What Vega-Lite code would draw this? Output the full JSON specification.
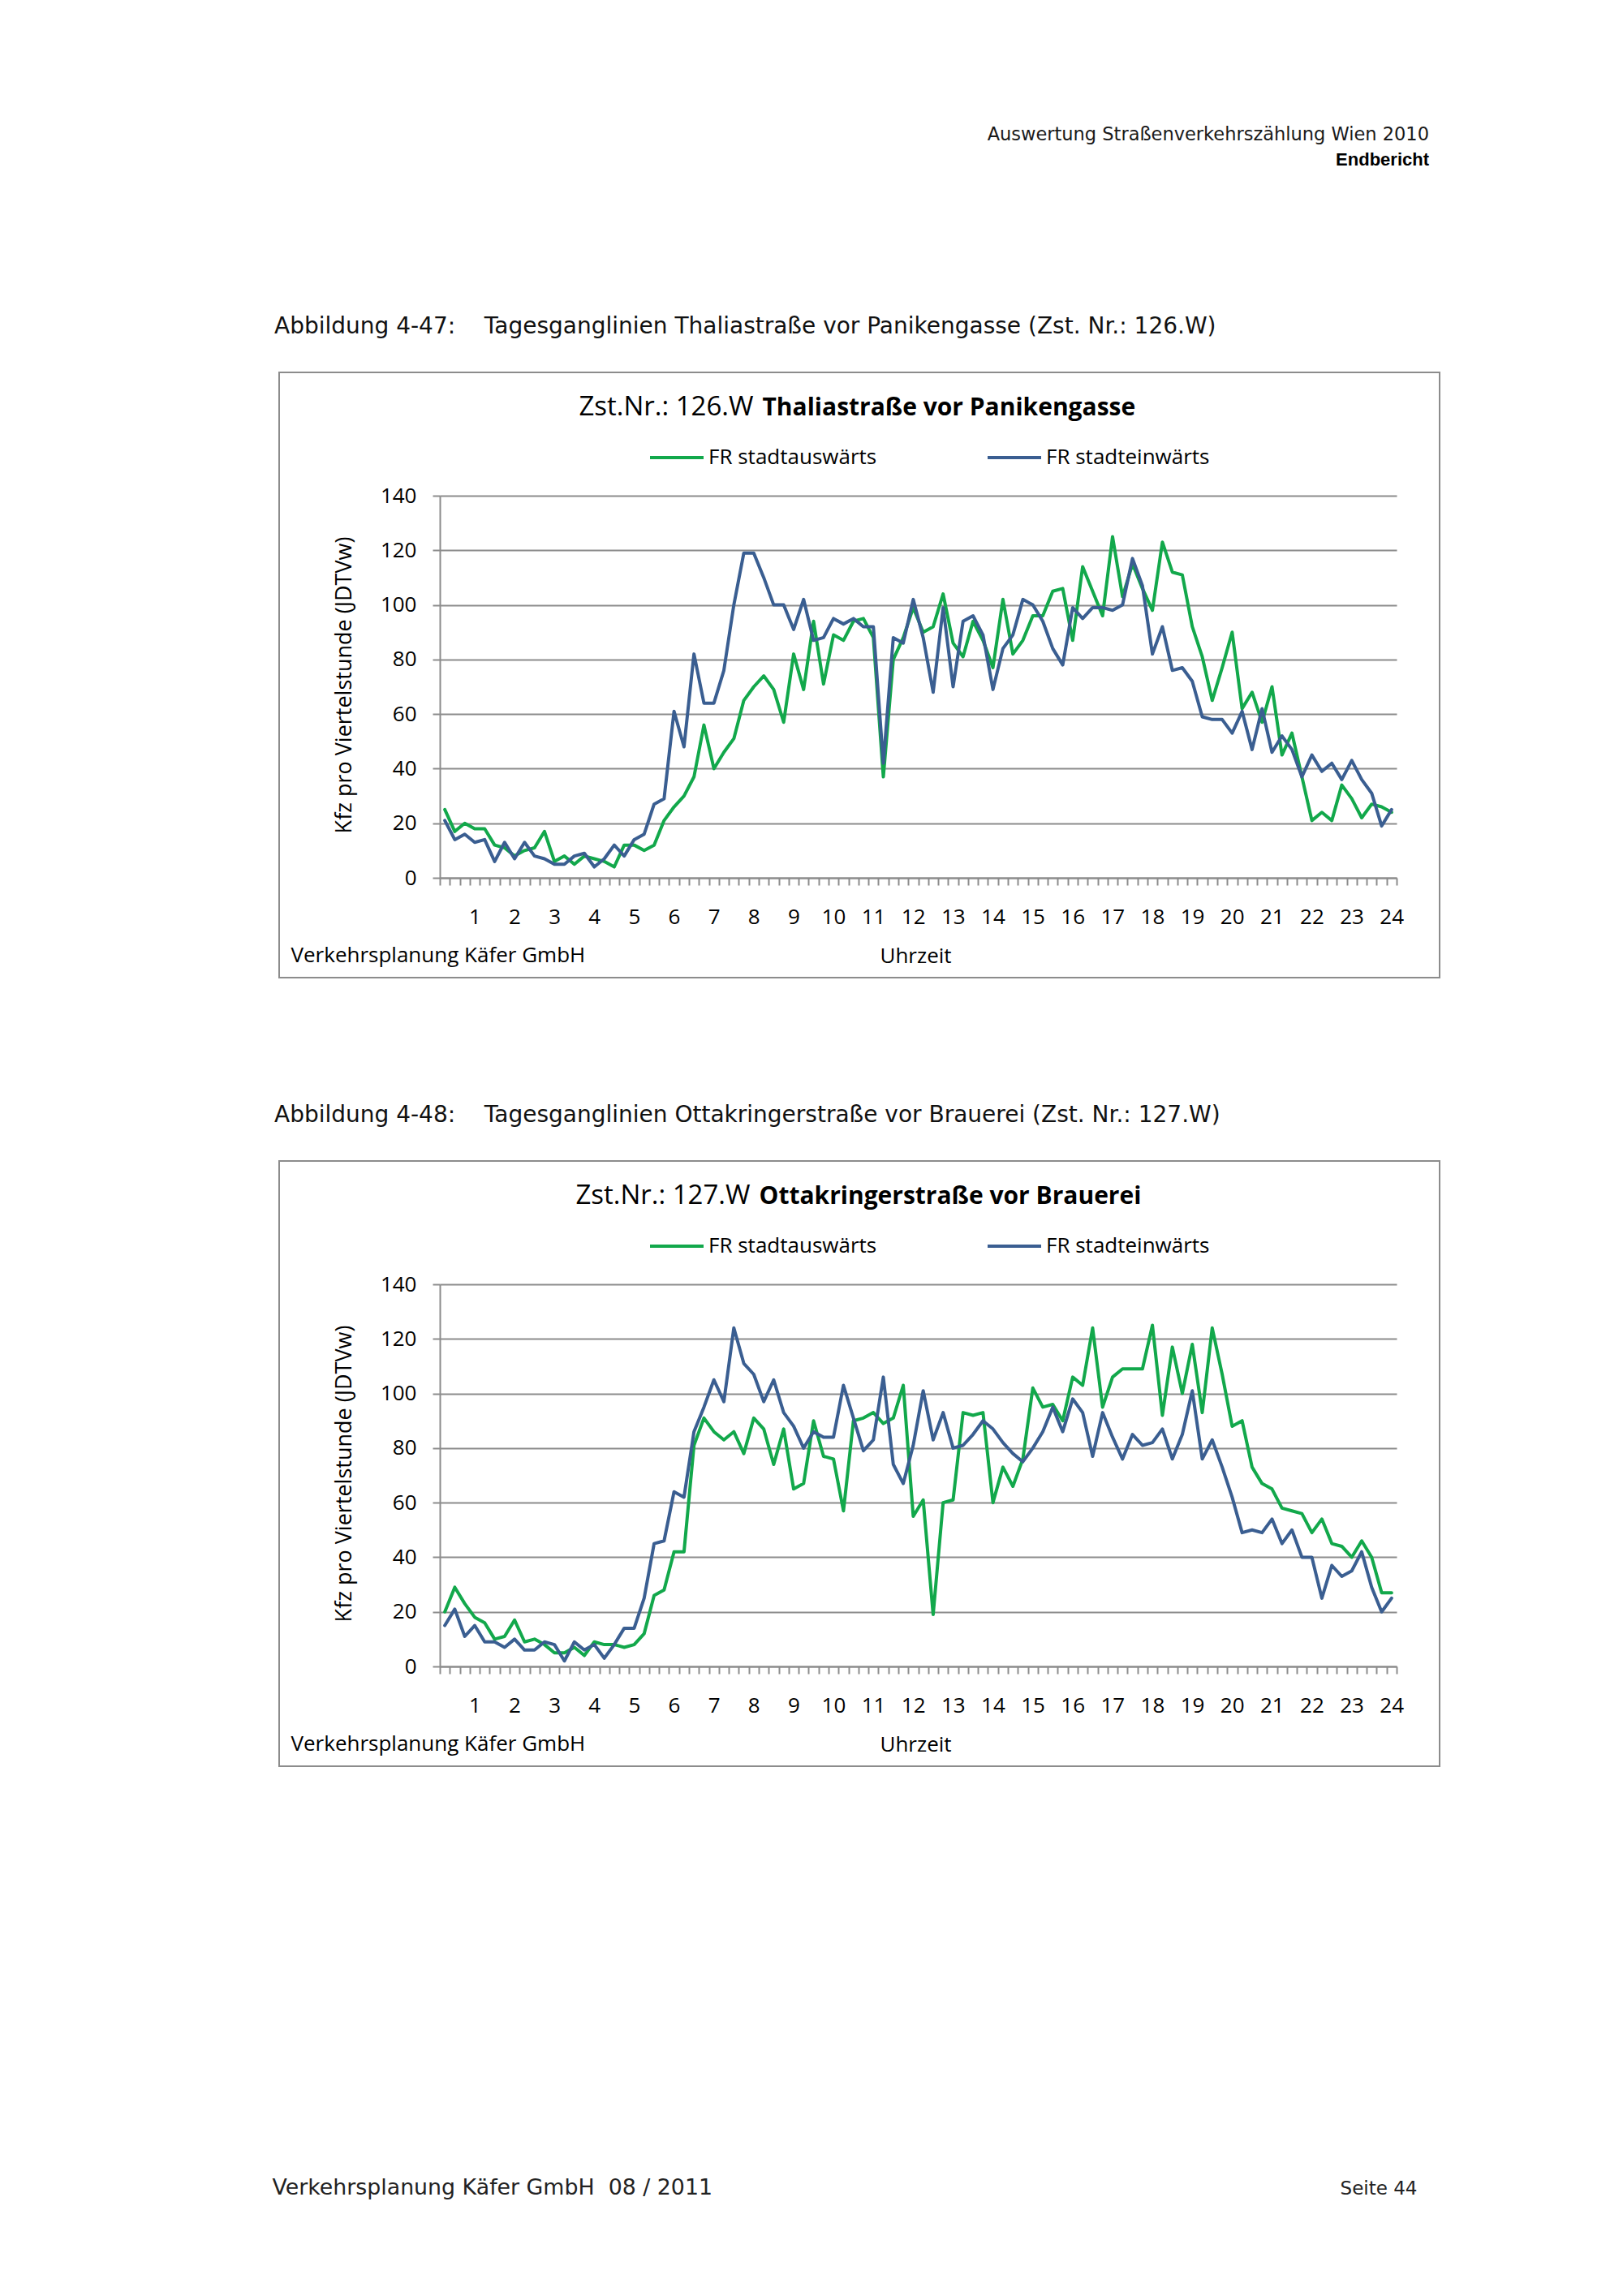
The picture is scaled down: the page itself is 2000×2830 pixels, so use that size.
{
"$schema": "https://vega.github.io/schema/vega-lite/v6.json",
"background": "white",
"padding": {"left": 334, "top": 155, "right": 0, "bottom": 10},
"bounds": "flush",
"spacing": 226,
"title": {"text": "Auswertung Straßenverkehrszählung Wien 2010", "subtitle": "Endbericht", "anchor": "end", "frame": "bounds", "font": "DejaVu Sans", "fontSize": 22.5, "fontWeight": "normal", "color": "#1a1a1a", "subtitleFont": "Liberation Sans", "subtitleFontSize": 22, "subtitleFontWeight": "bold", "subtitleColor": "#000", "subtitlePadding": 9, "baseline": "top", "offset": 180.5, "dx": -14},
"datasets": {
"c1": [
{"q":1,"Richtung":"FR stadtauswärts","Kfz":25},{"q":2,"Richtung":"FR stadtauswärts","Kfz":17},{"q":3,"Richtung":"FR stadtauswärts","Kfz":20},{"q":4,"Richtung":"FR stadtauswärts","Kfz":18},{"q":5,"Richtung":"FR stadtauswärts","Kfz":18},{"q":6,"Richtung":"FR stadtauswärts","Kfz":12},{"q":7,"Richtung":"FR stadtauswärts","Kfz":11},{"q":8,"Richtung":"FR stadtauswärts","Kfz":8},{"q":9,"Richtung":"FR stadtauswärts","Kfz":10},{"q":10,"Richtung":"FR stadtauswärts","Kfz":11},
{"q":11,"Richtung":"FR stadtauswärts","Kfz":17},{"q":12,"Richtung":"FR stadtauswärts","Kfz":6},{"q":13,"Richtung":"FR stadtauswärts","Kfz":8},{"q":14,"Richtung":"FR stadtauswärts","Kfz":5},{"q":15,"Richtung":"FR stadtauswärts","Kfz":8},{"q":16,"Richtung":"FR stadtauswärts","Kfz":7},{"q":17,"Richtung":"FR stadtauswärts","Kfz":6},{"q":18,"Richtung":"FR stadtauswärts","Kfz":4},{"q":19,"Richtung":"FR stadtauswärts","Kfz":12},{"q":20,"Richtung":"FR stadtauswärts","Kfz":12},
{"q":21,"Richtung":"FR stadtauswärts","Kfz":10},{"q":22,"Richtung":"FR stadtauswärts","Kfz":12},{"q":23,"Richtung":"FR stadtauswärts","Kfz":21},{"q":24,"Richtung":"FR stadtauswärts","Kfz":26},{"q":25,"Richtung":"FR stadtauswärts","Kfz":30},{"q":26,"Richtung":"FR stadtauswärts","Kfz":37},{"q":27,"Richtung":"FR stadtauswärts","Kfz":56},{"q":28,"Richtung":"FR stadtauswärts","Kfz":40},{"q":29,"Richtung":"FR stadtauswärts","Kfz":46},{"q":30,"Richtung":"FR stadtauswärts","Kfz":51},
{"q":31,"Richtung":"FR stadtauswärts","Kfz":65},{"q":32,"Richtung":"FR stadtauswärts","Kfz":70},{"q":33,"Richtung":"FR stadtauswärts","Kfz":74},{"q":34,"Richtung":"FR stadtauswärts","Kfz":69},{"q":35,"Richtung":"FR stadtauswärts","Kfz":57},{"q":36,"Richtung":"FR stadtauswärts","Kfz":82},{"q":37,"Richtung":"FR stadtauswärts","Kfz":69},{"q":38,"Richtung":"FR stadtauswärts","Kfz":94},{"q":39,"Richtung":"FR stadtauswärts","Kfz":71},{"q":40,"Richtung":"FR stadtauswärts","Kfz":89},
{"q":41,"Richtung":"FR stadtauswärts","Kfz":87},{"q":42,"Richtung":"FR stadtauswärts","Kfz":94},{"q":43,"Richtung":"FR stadtauswärts","Kfz":95},{"q":44,"Richtung":"FR stadtauswärts","Kfz":88},{"q":45,"Richtung":"FR stadtauswärts","Kfz":37},{"q":46,"Richtung":"FR stadtauswärts","Kfz":80},{"q":47,"Richtung":"FR stadtauswärts","Kfz":88},{"q":48,"Richtung":"FR stadtauswärts","Kfz":99},{"q":49,"Richtung":"FR stadtauswärts","Kfz":90},{"q":50,"Richtung":"FR stadtauswärts","Kfz":92},
{"q":51,"Richtung":"FR stadtauswärts","Kfz":104},{"q":52,"Richtung":"FR stadtauswärts","Kfz":86},{"q":53,"Richtung":"FR stadtauswärts","Kfz":81},{"q":54,"Richtung":"FR stadtauswärts","Kfz":94},{"q":55,"Richtung":"FR stadtauswärts","Kfz":87},{"q":56,"Richtung":"FR stadtauswärts","Kfz":77},{"q":57,"Richtung":"FR stadtauswärts","Kfz":102},{"q":58,"Richtung":"FR stadtauswärts","Kfz":82},{"q":59,"Richtung":"FR stadtauswärts","Kfz":87},{"q":60,"Richtung":"FR stadtauswärts","Kfz":96},
{"q":61,"Richtung":"FR stadtauswärts","Kfz":96},{"q":62,"Richtung":"FR stadtauswärts","Kfz":105},{"q":63,"Richtung":"FR stadtauswärts","Kfz":106},{"q":64,"Richtung":"FR stadtauswärts","Kfz":87},{"q":65,"Richtung":"FR stadtauswärts","Kfz":114},{"q":66,"Richtung":"FR stadtauswärts","Kfz":105},{"q":67,"Richtung":"FR stadtauswärts","Kfz":96},{"q":68,"Richtung":"FR stadtauswärts","Kfz":125},{"q":69,"Richtung":"FR stadtauswärts","Kfz":103},{"q":70,"Richtung":"FR stadtauswärts","Kfz":115},
{"q":71,"Richtung":"FR stadtauswärts","Kfz":106},{"q":72,"Richtung":"FR stadtauswärts","Kfz":98},{"q":73,"Richtung":"FR stadtauswärts","Kfz":123},{"q":74,"Richtung":"FR stadtauswärts","Kfz":112},{"q":75,"Richtung":"FR stadtauswärts","Kfz":111},{"q":76,"Richtung":"FR stadtauswärts","Kfz":92},{"q":77,"Richtung":"FR stadtauswärts","Kfz":81},{"q":78,"Richtung":"FR stadtauswärts","Kfz":65},{"q":79,"Richtung":"FR stadtauswärts","Kfz":77},{"q":80,"Richtung":"FR stadtauswärts","Kfz":90},
{"q":81,"Richtung":"FR stadtauswärts","Kfz":62},{"q":82,"Richtung":"FR stadtauswärts","Kfz":68},{"q":83,"Richtung":"FR stadtauswärts","Kfz":57},{"q":84,"Richtung":"FR stadtauswärts","Kfz":70},{"q":85,"Richtung":"FR stadtauswärts","Kfz":45},{"q":86,"Richtung":"FR stadtauswärts","Kfz":53},{"q":87,"Richtung":"FR stadtauswärts","Kfz":37},{"q":88,"Richtung":"FR stadtauswärts","Kfz":21},{"q":89,"Richtung":"FR stadtauswärts","Kfz":24},{"q":90,"Richtung":"FR stadtauswärts","Kfz":21},
{"q":91,"Richtung":"FR stadtauswärts","Kfz":34},{"q":92,"Richtung":"FR stadtauswärts","Kfz":29},{"q":93,"Richtung":"FR stadtauswärts","Kfz":22},{"q":94,"Richtung":"FR stadtauswärts","Kfz":27},{"q":95,"Richtung":"FR stadtauswärts","Kfz":26},{"q":96,"Richtung":"FR stadtauswärts","Kfz":24},
{"q":1,"Richtung":"FR stadteinwärts","Kfz":21},{"q":2,"Richtung":"FR stadteinwärts","Kfz":14},{"q":3,"Richtung":"FR stadteinwärts","Kfz":16},{"q":4,"Richtung":"FR stadteinwärts","Kfz":13},{"q":5,"Richtung":"FR stadteinwärts","Kfz":14},{"q":6,"Richtung":"FR stadteinwärts","Kfz":6},{"q":7,"Richtung":"FR stadteinwärts","Kfz":13},{"q":8,"Richtung":"FR stadteinwärts","Kfz":7},{"q":9,"Richtung":"FR stadteinwärts","Kfz":13},{"q":10,"Richtung":"FR stadteinwärts","Kfz":8},
{"q":11,"Richtung":"FR stadteinwärts","Kfz":7},{"q":12,"Richtung":"FR stadteinwärts","Kfz":5},{"q":13,"Richtung":"FR stadteinwärts","Kfz":5},{"q":14,"Richtung":"FR stadteinwärts","Kfz":8},{"q":15,"Richtung":"FR stadteinwärts","Kfz":9},{"q":16,"Richtung":"FR stadteinwärts","Kfz":4},{"q":17,"Richtung":"FR stadteinwärts","Kfz":7},{"q":18,"Richtung":"FR stadteinwärts","Kfz":12},{"q":19,"Richtung":"FR stadteinwärts","Kfz":8},{"q":20,"Richtung":"FR stadteinwärts","Kfz":14},
{"q":21,"Richtung":"FR stadteinwärts","Kfz":16},{"q":22,"Richtung":"FR stadteinwärts","Kfz":27},{"q":23,"Richtung":"FR stadteinwärts","Kfz":29},{"q":24,"Richtung":"FR stadteinwärts","Kfz":61},{"q":25,"Richtung":"FR stadteinwärts","Kfz":48},{"q":26,"Richtung":"FR stadteinwärts","Kfz":82},{"q":27,"Richtung":"FR stadteinwärts","Kfz":64},{"q":28,"Richtung":"FR stadteinwärts","Kfz":64},{"q":29,"Richtung":"FR stadteinwärts","Kfz":76},{"q":30,"Richtung":"FR stadteinwärts","Kfz":100},
{"q":31,"Richtung":"FR stadteinwärts","Kfz":119},{"q":32,"Richtung":"FR stadteinwärts","Kfz":119},{"q":33,"Richtung":"FR stadteinwärts","Kfz":110},{"q":34,"Richtung":"FR stadteinwärts","Kfz":100},{"q":35,"Richtung":"FR stadteinwärts","Kfz":100},{"q":36,"Richtung":"FR stadteinwärts","Kfz":91},{"q":37,"Richtung":"FR stadteinwärts","Kfz":102},{"q":38,"Richtung":"FR stadteinwärts","Kfz":87},{"q":39,"Richtung":"FR stadteinwärts","Kfz":88},{"q":40,"Richtung":"FR stadteinwärts","Kfz":95},
{"q":41,"Richtung":"FR stadteinwärts","Kfz":93},{"q":42,"Richtung":"FR stadteinwärts","Kfz":95},{"q":43,"Richtung":"FR stadteinwärts","Kfz":92},{"q":44,"Richtung":"FR stadteinwärts","Kfz":92},{"q":45,"Richtung":"FR stadteinwärts","Kfz":42},{"q":46,"Richtung":"FR stadteinwärts","Kfz":88},{"q":47,"Richtung":"FR stadteinwärts","Kfz":86},{"q":48,"Richtung":"FR stadteinwärts","Kfz":102},{"q":49,"Richtung":"FR stadteinwärts","Kfz":88},{"q":50,"Richtung":"FR stadteinwärts","Kfz":68},
{"q":51,"Richtung":"FR stadteinwärts","Kfz":99},{"q":52,"Richtung":"FR stadteinwärts","Kfz":70},{"q":53,"Richtung":"FR stadteinwärts","Kfz":94},{"q":54,"Richtung":"FR stadteinwärts","Kfz":96},{"q":55,"Richtung":"FR stadteinwärts","Kfz":89},{"q":56,"Richtung":"FR stadteinwärts","Kfz":69},{"q":57,"Richtung":"FR stadteinwärts","Kfz":84},{"q":58,"Richtung":"FR stadteinwärts","Kfz":89},{"q":59,"Richtung":"FR stadteinwärts","Kfz":102},{"q":60,"Richtung":"FR stadteinwärts","Kfz":100},
{"q":61,"Richtung":"FR stadteinwärts","Kfz":94},{"q":62,"Richtung":"FR stadteinwärts","Kfz":84},{"q":63,"Richtung":"FR stadteinwärts","Kfz":78},{"q":64,"Richtung":"FR stadteinwärts","Kfz":99},{"q":65,"Richtung":"FR stadteinwärts","Kfz":95},{"q":66,"Richtung":"FR stadteinwärts","Kfz":99},{"q":67,"Richtung":"FR stadteinwärts","Kfz":99},{"q":68,"Richtung":"FR stadteinwärts","Kfz":98},{"q":69,"Richtung":"FR stadteinwärts","Kfz":100},{"q":70,"Richtung":"FR stadteinwärts","Kfz":117},
{"q":71,"Richtung":"FR stadteinwärts","Kfz":107},{"q":72,"Richtung":"FR stadteinwärts","Kfz":82},{"q":73,"Richtung":"FR stadteinwärts","Kfz":92},{"q":74,"Richtung":"FR stadteinwärts","Kfz":76},{"q":75,"Richtung":"FR stadteinwärts","Kfz":77},{"q":76,"Richtung":"FR stadteinwärts","Kfz":72},{"q":77,"Richtung":"FR stadteinwärts","Kfz":59},{"q":78,"Richtung":"FR stadteinwärts","Kfz":58},{"q":79,"Richtung":"FR stadteinwärts","Kfz":58},{"q":80,"Richtung":"FR stadteinwärts","Kfz":53},
{"q":81,"Richtung":"FR stadteinwärts","Kfz":61},{"q":82,"Richtung":"FR stadteinwärts","Kfz":47},{"q":83,"Richtung":"FR stadteinwärts","Kfz":62},{"q":84,"Richtung":"FR stadteinwärts","Kfz":46},{"q":85,"Richtung":"FR stadteinwärts","Kfz":52},{"q":86,"Richtung":"FR stadteinwärts","Kfz":47},{"q":87,"Richtung":"FR stadteinwärts","Kfz":37},{"q":88,"Richtung":"FR stadteinwärts","Kfz":45},{"q":89,"Richtung":"FR stadteinwärts","Kfz":39},{"q":90,"Richtung":"FR stadteinwärts","Kfz":42},
{"q":91,"Richtung":"FR stadteinwärts","Kfz":36},{"q":92,"Richtung":"FR stadteinwärts","Kfz":43},{"q":93,"Richtung":"FR stadteinwärts","Kfz":36},{"q":94,"Richtung":"FR stadteinwärts","Kfz":31},{"q":95,"Richtung":"FR stadteinwärts","Kfz":19},{"q":96,"Richtung":"FR stadteinwärts","Kfz":25}
],
"c2": [
{"q":1,"Richtung":"FR stadtauswärts","Kfz":20},{"q":2,"Richtung":"FR stadtauswärts","Kfz":29},{"q":3,"Richtung":"FR stadtauswärts","Kfz":23},{"q":4,"Richtung":"FR stadtauswärts","Kfz":18},{"q":5,"Richtung":"FR stadtauswärts","Kfz":16},{"q":6,"Richtung":"FR stadtauswärts","Kfz":10},{"q":7,"Richtung":"FR stadtauswärts","Kfz":11},{"q":8,"Richtung":"FR stadtauswärts","Kfz":17},{"q":9,"Richtung":"FR stadtauswärts","Kfz":9},{"q":10,"Richtung":"FR stadtauswärts","Kfz":10},
{"q":11,"Richtung":"FR stadtauswärts","Kfz":8},{"q":12,"Richtung":"FR stadtauswärts","Kfz":5},{"q":13,"Richtung":"FR stadtauswärts","Kfz":5},{"q":14,"Richtung":"FR stadtauswärts","Kfz":7},{"q":15,"Richtung":"FR stadtauswärts","Kfz":4},{"q":16,"Richtung":"FR stadtauswärts","Kfz":9},{"q":17,"Richtung":"FR stadtauswärts","Kfz":8},{"q":18,"Richtung":"FR stadtauswärts","Kfz":8},{"q":19,"Richtung":"FR stadtauswärts","Kfz":7},{"q":20,"Richtung":"FR stadtauswärts","Kfz":8},
{"q":21,"Richtung":"FR stadtauswärts","Kfz":12},{"q":22,"Richtung":"FR stadtauswärts","Kfz":26},{"q":23,"Richtung":"FR stadtauswärts","Kfz":28},{"q":24,"Richtung":"FR stadtauswärts","Kfz":42},{"q":25,"Richtung":"FR stadtauswärts","Kfz":42},{"q":26,"Richtung":"FR stadtauswärts","Kfz":81},{"q":27,"Richtung":"FR stadtauswärts","Kfz":91},{"q":28,"Richtung":"FR stadtauswärts","Kfz":86},{"q":29,"Richtung":"FR stadtauswärts","Kfz":83},{"q":30,"Richtung":"FR stadtauswärts","Kfz":86},
{"q":31,"Richtung":"FR stadtauswärts","Kfz":78},{"q":32,"Richtung":"FR stadtauswärts","Kfz":91},{"q":33,"Richtung":"FR stadtauswärts","Kfz":87},{"q":34,"Richtung":"FR stadtauswärts","Kfz":74},{"q":35,"Richtung":"FR stadtauswärts","Kfz":87},{"q":36,"Richtung":"FR stadtauswärts","Kfz":65},{"q":37,"Richtung":"FR stadtauswärts","Kfz":67},{"q":38,"Richtung":"FR stadtauswärts","Kfz":90},{"q":39,"Richtung":"FR stadtauswärts","Kfz":77},{"q":40,"Richtung":"FR stadtauswärts","Kfz":76},
{"q":41,"Richtung":"FR stadtauswärts","Kfz":57},{"q":42,"Richtung":"FR stadtauswärts","Kfz":90},{"q":43,"Richtung":"FR stadtauswärts","Kfz":91},{"q":44,"Richtung":"FR stadtauswärts","Kfz":93},{"q":45,"Richtung":"FR stadtauswärts","Kfz":89},{"q":46,"Richtung":"FR stadtauswärts","Kfz":91},{"q":47,"Richtung":"FR stadtauswärts","Kfz":103},{"q":48,"Richtung":"FR stadtauswärts","Kfz":55},{"q":49,"Richtung":"FR stadtauswärts","Kfz":61},{"q":50,"Richtung":"FR stadtauswärts","Kfz":19},
{"q":51,"Richtung":"FR stadtauswärts","Kfz":60},{"q":52,"Richtung":"FR stadtauswärts","Kfz":61},{"q":53,"Richtung":"FR stadtauswärts","Kfz":93},{"q":54,"Richtung":"FR stadtauswärts","Kfz":92},{"q":55,"Richtung":"FR stadtauswärts","Kfz":93},{"q":56,"Richtung":"FR stadtauswärts","Kfz":60},{"q":57,"Richtung":"FR stadtauswärts","Kfz":73},{"q":58,"Richtung":"FR stadtauswärts","Kfz":66},{"q":59,"Richtung":"FR stadtauswärts","Kfz":76},{"q":60,"Richtung":"FR stadtauswärts","Kfz":102},
{"q":61,"Richtung":"FR stadtauswärts","Kfz":95},{"q":62,"Richtung":"FR stadtauswärts","Kfz":96},{"q":63,"Richtung":"FR stadtauswärts","Kfz":90},{"q":64,"Richtung":"FR stadtauswärts","Kfz":106},{"q":65,"Richtung":"FR stadtauswärts","Kfz":103},{"q":66,"Richtung":"FR stadtauswärts","Kfz":124},{"q":67,"Richtung":"FR stadtauswärts","Kfz":95},{"q":68,"Richtung":"FR stadtauswärts","Kfz":106},{"q":69,"Richtung":"FR stadtauswärts","Kfz":109},{"q":70,"Richtung":"FR stadtauswärts","Kfz":109},
{"q":71,"Richtung":"FR stadtauswärts","Kfz":109},{"q":72,"Richtung":"FR stadtauswärts","Kfz":125},{"q":73,"Richtung":"FR stadtauswärts","Kfz":92},{"q":74,"Richtung":"FR stadtauswärts","Kfz":117},{"q":75,"Richtung":"FR stadtauswärts","Kfz":100},{"q":76,"Richtung":"FR stadtauswärts","Kfz":118},{"q":77,"Richtung":"FR stadtauswärts","Kfz":93},{"q":78,"Richtung":"FR stadtauswärts","Kfz":124},{"q":79,"Richtung":"FR stadtauswärts","Kfz":107},{"q":80,"Richtung":"FR stadtauswärts","Kfz":88},
{"q":81,"Richtung":"FR stadtauswärts","Kfz":90},{"q":82,"Richtung":"FR stadtauswärts","Kfz":73},{"q":83,"Richtung":"FR stadtauswärts","Kfz":67},{"q":84,"Richtung":"FR stadtauswärts","Kfz":65},{"q":85,"Richtung":"FR stadtauswärts","Kfz":58},{"q":86,"Richtung":"FR stadtauswärts","Kfz":57},{"q":87,"Richtung":"FR stadtauswärts","Kfz":56},{"q":88,"Richtung":"FR stadtauswärts","Kfz":49},{"q":89,"Richtung":"FR stadtauswärts","Kfz":54},{"q":90,"Richtung":"FR stadtauswärts","Kfz":45},
{"q":91,"Richtung":"FR stadtauswärts","Kfz":44},{"q":92,"Richtung":"FR stadtauswärts","Kfz":40},{"q":93,"Richtung":"FR stadtauswärts","Kfz":46},{"q":94,"Richtung":"FR stadtauswärts","Kfz":40},{"q":95,"Richtung":"FR stadtauswärts","Kfz":27},{"q":96,"Richtung":"FR stadtauswärts","Kfz":27},
{"q":1,"Richtung":"FR stadteinwärts","Kfz":15},{"q":2,"Richtung":"FR stadteinwärts","Kfz":21},{"q":3,"Richtung":"FR stadteinwärts","Kfz":11},{"q":4,"Richtung":"FR stadteinwärts","Kfz":15},{"q":5,"Richtung":"FR stadteinwärts","Kfz":9},{"q":6,"Richtung":"FR stadteinwärts","Kfz":9},{"q":7,"Richtung":"FR stadteinwärts","Kfz":7},{"q":8,"Richtung":"FR stadteinwärts","Kfz":10},{"q":9,"Richtung":"FR stadteinwärts","Kfz":6},{"q":10,"Richtung":"FR stadteinwärts","Kfz":6},
{"q":11,"Richtung":"FR stadteinwärts","Kfz":9},{"q":12,"Richtung":"FR stadteinwärts","Kfz":8},{"q":13,"Richtung":"FR stadteinwärts","Kfz":2},{"q":14,"Richtung":"FR stadteinwärts","Kfz":9},{"q":15,"Richtung":"FR stadteinwärts","Kfz":6},{"q":16,"Richtung":"FR stadteinwärts","Kfz":8},{"q":17,"Richtung":"FR stadteinwärts","Kfz":3},{"q":18,"Richtung":"FR stadteinwärts","Kfz":8},{"q":19,"Richtung":"FR stadteinwärts","Kfz":14},{"q":20,"Richtung":"FR stadteinwärts","Kfz":14},
{"q":21,"Richtung":"FR stadteinwärts","Kfz":25},{"q":22,"Richtung":"FR stadteinwärts","Kfz":45},{"q":23,"Richtung":"FR stadteinwärts","Kfz":46},{"q":24,"Richtung":"FR stadteinwärts","Kfz":64},{"q":25,"Richtung":"FR stadteinwärts","Kfz":62},{"q":26,"Richtung":"FR stadteinwärts","Kfz":86},{"q":27,"Richtung":"FR stadteinwärts","Kfz":95},{"q":28,"Richtung":"FR stadteinwärts","Kfz":105},{"q":29,"Richtung":"FR stadteinwärts","Kfz":97},{"q":30,"Richtung":"FR stadteinwärts","Kfz":124},
{"q":31,"Richtung":"FR stadteinwärts","Kfz":111},{"q":32,"Richtung":"FR stadteinwärts","Kfz":107},{"q":33,"Richtung":"FR stadteinwärts","Kfz":97},{"q":34,"Richtung":"FR stadteinwärts","Kfz":105},{"q":35,"Richtung":"FR stadteinwärts","Kfz":93},{"q":36,"Richtung":"FR stadteinwärts","Kfz":88},{"q":37,"Richtung":"FR stadteinwärts","Kfz":80},{"q":38,"Richtung":"FR stadteinwärts","Kfz":86},{"q":39,"Richtung":"FR stadteinwärts","Kfz":84},{"q":40,"Richtung":"FR stadteinwärts","Kfz":84},
{"q":41,"Richtung":"FR stadteinwärts","Kfz":103},{"q":42,"Richtung":"FR stadteinwärts","Kfz":91},{"q":43,"Richtung":"FR stadteinwärts","Kfz":79},{"q":44,"Richtung":"FR stadteinwärts","Kfz":83},{"q":45,"Richtung":"FR stadteinwärts","Kfz":106},{"q":46,"Richtung":"FR stadteinwärts","Kfz":74},{"q":47,"Richtung":"FR stadteinwärts","Kfz":67},{"q":48,"Richtung":"FR stadteinwärts","Kfz":81},{"q":49,"Richtung":"FR stadteinwärts","Kfz":101},{"q":50,"Richtung":"FR stadteinwärts","Kfz":83},
{"q":51,"Richtung":"FR stadteinwärts","Kfz":93},{"q":52,"Richtung":"FR stadteinwärts","Kfz":80},{"q":53,"Richtung":"FR stadteinwärts","Kfz":81},{"q":54,"Richtung":"FR stadteinwärts","Kfz":85},{"q":55,"Richtung":"FR stadteinwärts","Kfz":90},{"q":56,"Richtung":"FR stadteinwärts","Kfz":87},{"q":57,"Richtung":"FR stadteinwärts","Kfz":82},{"q":58,"Richtung":"FR stadteinwärts","Kfz":78},{"q":59,"Richtung":"FR stadteinwärts","Kfz":75},{"q":60,"Richtung":"FR stadteinwärts","Kfz":80},
{"q":61,"Richtung":"FR stadteinwärts","Kfz":86},{"q":62,"Richtung":"FR stadteinwärts","Kfz":95},{"q":63,"Richtung":"FR stadteinwärts","Kfz":86},{"q":64,"Richtung":"FR stadteinwärts","Kfz":98},{"q":65,"Richtung":"FR stadteinwärts","Kfz":93},{"q":66,"Richtung":"FR stadteinwärts","Kfz":77},{"q":67,"Richtung":"FR stadteinwärts","Kfz":93},{"q":68,"Richtung":"FR stadteinwärts","Kfz":84},{"q":69,"Richtung":"FR stadteinwärts","Kfz":76},{"q":70,"Richtung":"FR stadteinwärts","Kfz":85},
{"q":71,"Richtung":"FR stadteinwärts","Kfz":81},{"q":72,"Richtung":"FR stadteinwärts","Kfz":82},{"q":73,"Richtung":"FR stadteinwärts","Kfz":87},{"q":74,"Richtung":"FR stadteinwärts","Kfz":76},{"q":75,"Richtung":"FR stadteinwärts","Kfz":85},{"q":76,"Richtung":"FR stadteinwärts","Kfz":101},{"q":77,"Richtung":"FR stadteinwärts","Kfz":76},{"q":78,"Richtung":"FR stadteinwärts","Kfz":83},{"q":79,"Richtung":"FR stadteinwärts","Kfz":73},{"q":80,"Richtung":"FR stadteinwärts","Kfz":62},
{"q":81,"Richtung":"FR stadteinwärts","Kfz":49},{"q":82,"Richtung":"FR stadteinwärts","Kfz":50},{"q":83,"Richtung":"FR stadteinwärts","Kfz":49},{"q":84,"Richtung":"FR stadteinwärts","Kfz":54},{"q":85,"Richtung":"FR stadteinwärts","Kfz":45},{"q":86,"Richtung":"FR stadteinwärts","Kfz":50},{"q":87,"Richtung":"FR stadteinwärts","Kfz":40},{"q":88,"Richtung":"FR stadteinwärts","Kfz":40},{"q":89,"Richtung":"FR stadteinwärts","Kfz":25},{"q":90,"Richtung":"FR stadteinwärts","Kfz":37},
{"q":91,"Richtung":"FR stadteinwärts","Kfz":33},{"q":92,"Richtung":"FR stadteinwärts","Kfz":35},{"q":93,"Richtung":"FR stadteinwärts","Kfz":42},{"q":94,"Richtung":"FR stadteinwärts","Kfz":29},{"q":95,"Richtung":"FR stadteinwärts","Kfz":20},{"q":96,"Richtung":"FR stadteinwärts","Kfz":25}
]
},
"resolve": {"scale": {"x": "independent", "y": "independent", "color": "independent"}, "legend": {"color": "independent"}},
"vconcat": [
{
"data": {"name": "c1"},
"width": 1430, "height": 746,
"title": {"text": "Abbildung 4-47:\u00a0\u00a0\u00a0\u00a0Tagesganglinien Thaliastraße vor Panikengasse (Zst. Nr.: 126.W)", "anchor": "start", "frame": "group", "font": "DejaVu Sans", "fontSize": 28, "fontWeight": "normal", "color": "#111", "baseline": "top", "offset": 42, "dx": -6},
"resolve": {"axis": {"x": "independent", "y": "independent"}},
"layer": [
{"mark": {"type": "line", "strokeWidth": 4, "strokeJoin": "round", "strokeCap": "round"},
 "encoding": {
  "x": {"field": "q", "type": "quantitative", "scale": {"domain": [0.5, 96.5], "range": [198, 1377], "nice": false, "zero": false},
   "axis": {"orient": "bottom", "offset": -123, "values": [0.5,1.5,2.5,3.5,4.5,5.5,6.5,7.5,8.5,9.5,10.5,11.5,12.5,13.5,14.5,15.5,16.5,17.5,18.5,19.5,20.5,21.5,22.5,23.5,24.5,25.5,26.5,27.5,28.5,29.5,30.5,31.5,32.5,33.5,34.5,35.5,36.5,37.5,38.5,39.5,40.5,41.5,42.5,43.5,44.5,45.5,46.5,47.5,48.5,49.5,50.5,51.5,52.5,53.5,54.5,55.5,56.5,57.5,58.5,59.5,60.5,61.5,62.5,63.5,64.5,65.5,66.5,67.5,68.5,69.5,70.5,71.5,72.5,73.5,74.5,75.5,76.5,77.5,78.5,79.5,80.5,81.5,82.5,83.5,84.5,85.5,86.5,87.5,88.5,89.5,90.5,91.5,92.5,93.5,94.5,95.5,96.5],
    "labelExpr": "(datum.value + 0.5) % 4 == 0 ? '' + ((datum.value + 0.5) / 4) : ''", "labelOffset": 6, "labelPadding": 26, "labelOverlap": false, "labelBound": false, "labelFlush": false, "tickSize": 9, "grid": false,
    "title": "Uhrzeit", "titleX": 784, "titleY": 104, "titleAlign": "center", "titleBaseline": "alphabetic", "titleAngle": 0}},
  "y": {"field": "Kfz", "type": "quantitative", "scale": {"domain": [0, 140], "range": [623, 152], "nice": false, "zero": true},
   "axis": {"orient": "left", "offset": -198, "values": [0,20,40,60,80,100,120,140], "grid": true, "tickSize": 9, "labelPadding": 20,
    "title": "Kfz pro Viertelstunde (JDTVw)", "titleFontSize": 27, "titleAngle": -90, "titleX": -118, "titleY": 385, "titleAlign": "center", "titleBaseline": "middle"}},
  "color": {"field": "Richtung", "type": "nominal", "scale": {"domain": ["FR stadtauswärts", "FR stadteinwärts"], "range": ["#12A84B", "#3A5E91"]},
   "legend": {"orient": "none", "legendX": 455, "legendY": 70, "direction": "horizontal", "title": null, "symbolType": "stroke", "symbolSize": 4356, "symbolStrokeWidth": 4, "labelFont": "Open Sans", "labelFontSize": 26, "labelColor": "#000", "labelOffset": 4, "columnPadding": 128, "labelLimit": 400}}
 }},
{"mark": {"type": "point", "opacity": 0},
 "encoding": {"x": {"field": "q", "type": "quantitative", "scale": {"domain": [0.5, 96.5], "range": [198, 1377], "nice": false, "zero": false},
   "axis": {"orient": "top", "domain": false, "ticks": false, "labels": false, "grid": false, "title": "Zst.Nr.: 126.W", "titleX": 584, "titleY": 52, "titleAlign": "right", "titleBaseline": "alphabetic", "titleAngle": 0, "titleFontSize": 33, "titleFontWeight": "normal"}},
  "y": {"field": "Kfz", "type": "quantitative", "axis": null}}},
{"mark": {"type": "point", "opacity": 0},
 "encoding": {"x": {"field": "q", "type": "quantitative", "scale": {"domain": [0.5, 96.5], "range": [198, 1377], "nice": false, "zero": false},
   "axis": {"orient": "top", "domain": false, "ticks": false, "labels": false, "grid": false, "title": "Thaliastraße vor Panikengasse", "titleX": 595, "titleY": 52, "titleAlign": "left", "titleBaseline": "alphabetic", "titleAngle": 0, "titleFontSize": 30, "titleFontWeight": "bold"}},
  "y": {"field": "Kfz", "type": "quantitative", "axis": null}}},
{"mark": {"type": "point", "opacity": 0},
 "encoding": {"x": {"field": "q", "type": "quantitative", "scale": {"domain": [0.5, 96.5], "range": [198, 1377], "nice": false, "zero": false},
   "axis": {"orient": "bottom", "domain": false, "ticks": false, "labels": false, "grid": false, "title": "Verkehrsplanung Käfer GmbH", "titleX": 14, "titleY": -20, "titleAlign": "left", "titleBaseline": "alphabetic", "titleAngle": 0}},
  "y": {"field": "Kfz", "type": "quantitative", "axis": null}}}
]
},
{
"data": {"name": "c2"},
"width": 1430, "height": 746,
"title": {"text": "Abbildung 4-48:\u00a0\u00a0\u00a0\u00a0Tagesganglinien Ottakringerstraße vor Brauerei (Zst. Nr.: 127.W)", "anchor": "start", "frame": "group", "font": "DejaVu Sans", "fontSize": 28, "fontWeight": "normal", "color": "#111", "baseline": "top", "offset": 42, "dx": -6},
"resolve": {"axis": {"x": "independent", "y": "independent"}},
"layer": [
{"mark": {"type": "line", "strokeWidth": 4, "strokeJoin": "round", "strokeCap": "round"},
 "encoding": {
  "x": {"field": "q", "type": "quantitative", "scale": {"domain": [0.5, 96.5], "range": [198, 1377], "nice": false, "zero": false},
   "axis": {"orient": "bottom", "offset": -123, "values": [0.5,1.5,2.5,3.5,4.5,5.5,6.5,7.5,8.5,9.5,10.5,11.5,12.5,13.5,14.5,15.5,16.5,17.5,18.5,19.5,20.5,21.5,22.5,23.5,24.5,25.5,26.5,27.5,28.5,29.5,30.5,31.5,32.5,33.5,34.5,35.5,36.5,37.5,38.5,39.5,40.5,41.5,42.5,43.5,44.5,45.5,46.5,47.5,48.5,49.5,50.5,51.5,52.5,53.5,54.5,55.5,56.5,57.5,58.5,59.5,60.5,61.5,62.5,63.5,64.5,65.5,66.5,67.5,68.5,69.5,70.5,71.5,72.5,73.5,74.5,75.5,76.5,77.5,78.5,79.5,80.5,81.5,82.5,83.5,84.5,85.5,86.5,87.5,88.5,89.5,90.5,91.5,92.5,93.5,94.5,95.5,96.5],
    "labelExpr": "(datum.value + 0.5) % 4 == 0 ? '' + ((datum.value + 0.5) / 4) : ''", "labelOffset": 6, "labelPadding": 26, "labelOverlap": false, "labelBound": false, "labelFlush": false, "tickSize": 9, "grid": false,
    "title": "Uhrzeit", "titleX": 784, "titleY": 104, "titleAlign": "center", "titleBaseline": "alphabetic", "titleAngle": 0}},
  "y": {"field": "Kfz", "type": "quantitative", "scale": {"domain": [0, 140], "range": [623, 152], "nice": false, "zero": true},
   "axis": {"orient": "left", "offset": -198, "values": [0,20,40,60,80,100,120,140], "grid": true, "tickSize": 9, "labelPadding": 20,
    "title": "Kfz pro Viertelstunde (JDTVw)", "titleFontSize": 27, "titleAngle": -90, "titleX": -118, "titleY": 385, "titleAlign": "center", "titleBaseline": "middle"}},
  "color": {"field": "Richtung", "type": "nominal", "scale": {"domain": ["FR stadtauswärts", "FR stadteinwärts"], "range": ["#12A84B", "#3A5E91"]},
   "legend": {"orient": "none", "legendX": 455, "legendY": 70, "direction": "horizontal", "title": null, "symbolType": "stroke", "symbolSize": 4356, "symbolStrokeWidth": 4, "labelFont": "Open Sans", "labelFontSize": 26, "labelColor": "#000", "labelOffset": 4, "columnPadding": 128, "labelLimit": 400}}
 }},
{"mark": {"type": "point", "opacity": 0},
 "encoding": {"x": {"field": "q", "type": "quantitative", "scale": {"domain": [0.5, 96.5], "range": [198, 1377], "nice": false, "zero": false},
   "axis": {"orient": "top", "domain": false, "ticks": false, "labels": false, "grid": false, "title": "Zst.Nr.: 127.W", "titleX": 580, "titleY": 52, "titleAlign": "right", "titleBaseline": "alphabetic", "titleAngle": 0, "titleFontSize": 33, "titleFontWeight": "normal"}},
  "y": {"field": "Kfz", "type": "quantitative", "axis": null}}},
{"mark": {"type": "point", "opacity": 0},
 "encoding": {"x": {"field": "q", "type": "quantitative", "scale": {"domain": [0.5, 96.5], "range": [198, 1377], "nice": false, "zero": false},
   "axis": {"orient": "top", "domain": false, "ticks": false, "labels": false, "grid": false, "title": "Ottakringerstraße vor Brauerei", "titleX": 591, "titleY": 52, "titleAlign": "left", "titleBaseline": "alphabetic", "titleAngle": 0, "titleFontSize": 30, "titleFontWeight": "bold"}},
  "y": {"field": "Kfz", "type": "quantitative", "axis": null}}},
{"mark": {"type": "point", "opacity": 0},
 "encoding": {"x": {"field": "q", "type": "quantitative", "scale": {"domain": [0.5, 96.5], "range": [198, 1377], "nice": false, "zero": false},
   "axis": {"orient": "bottom", "domain": false, "ticks": false, "labels": false, "grid": false, "title": "Verkehrsplanung Käfer GmbH", "titleX": 14, "titleY": -20, "titleAlign": "left", "titleBaseline": "alphabetic", "titleAngle": 0}},
  "y": {"field": "Kfz", "type": "quantitative", "axis": null}}},
{"mark": {"type": "point", "opacity": 0},
 "encoding": {"x": {"field": "q", "type": "quantitative", "scale": {"domain": [0.5, 96.5], "range": [198, 1377], "nice": false, "zero": false},
   "axis": {"orient": "bottom", "domain": false, "ticks": false, "labels": false, "grid": false, "title": "Verkehrsplanung Käfer GmbH\u00a0 08 / 2011", "titleX": -9, "titleY": 527, "titleAlign": "left", "titleBaseline": "alphabetic", "titleAngle": 0, "titleFont": "DejaVu Sans", "titleFontSize": 26.8, "titleColor": "#222"}},
  "y": {"field": "Kfz", "type": "quantitative", "axis": null}}},
{"mark": {"type": "point", "opacity": 0},
 "encoding": {"x": {"field": "q", "type": "quantitative", "scale": {"domain": [0.5, 96.5], "range": [198, 1377], "nice": false, "zero": false},
   "axis": {"orient": "bottom", "domain": false, "ticks": false, "labels": false, "grid": false, "title": "Seite 44", "titleX": 1402, "titleY": 527, "titleAlign": "right", "titleBaseline": "alphabetic", "titleAngle": 0, "titleFont": "DejaVu Sans", "titleFontSize": 23, "titleColor": "#222"}},
  "y": {"field": "Kfz", "type": "quantitative", "axis": null}}}
]
}
],
"config": {
 "view": {"stroke": "#8c8c8c", "strokeWidth": 2},
 "axis": {"domainColor": "#8c8c8c", "domainWidth": 2, "tickColor": "#8c8c8c", "tickWidth": 2, "gridColor": "#8c8c8c", "gridWidth": 2, "labelFont": "Open Sans", "labelFontSize": 26, "labelColor": "#000", "titleFont": "Open Sans", "titleFontSize": 26, "titleFontWeight": "normal", "titleColor": "#000"}
}
}
